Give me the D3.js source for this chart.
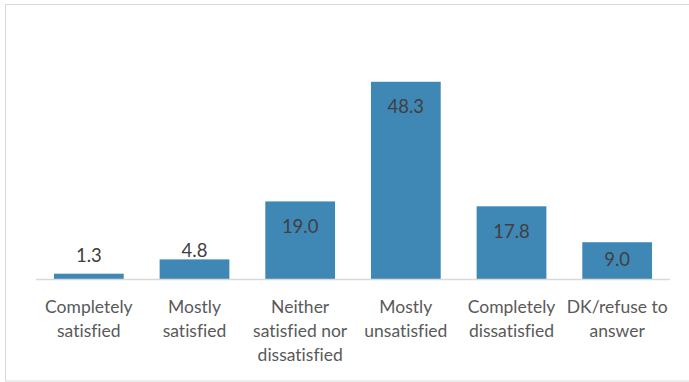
<!DOCTYPE html>
<html>
<head>
<meta charset="utf-8">
<script src="https://cdn.jsdelivr.net/npm/d3@7"></script>
<style>
  html, body { margin: 0; padding: 0; background: #fff; }
  svg { display: block; }
  text { font-variant-ligatures: none; font-feature-settings: "liga" 0; }
</style>
</head>
<body>
<svg id="chart" width="689" height="382"></svg>
<script>
// Satisfaction survey: share of respondents per answer (%)
const categories = [
  ["Completely", "satisfied"],
  ["Mostly", "satisfied"],
  ["Neither", "satisfied nor", "dissatisfied"],
  ["Mostly", "unsatisfied"],
  ["Completely", "dissatisfied"],
  ["DK/refuse to", "answer"]
];
const values = [1.3, 4.8, 19.0, 48.3, 17.8, 9.0];
const yMax = 60;

const svg = d3.select("#chart");
const fontFamily = "Lato, 'Open Sans', sans-serif";
const barColor = "#3f87b4";
const textColor = "#595959";
const labelColor = "#404040";

// chart frame
svg.append("rect")
  .attr("x", 5.5).attr("y", 4.5)
  .attr("width", 690).attr("height", 376.5)
  .attr("fill", "#fff")
  .attr("stroke", "#d9d9d9").attr("stroke-width", 1);

const plot = { left: 36, right: 670, top: 34, bottom: 279 };

const x = d3.scaleBand()
  .domain(d3.range(values.length))
  .range([plot.left, plot.right])
  .paddingInner(0.34)
  .paddingOuter(0.17);

const y = d3.scaleLinear()
  .domain([0, yMax])
  .range([plot.bottom, plot.top]);

// bars
svg.append("g").selectAll("rect")
  .data(values)
  .join("rect")
  .attr("x", (d, i) => x(i))
  .attr("y", d => y(d))
  .attr("width", x.bandwidth())
  .attr("height", d => y(0) - y(d))
  .attr("fill", barColor);

// category axis: baseline without ticks, wrapped labels
const xAxis = d3.axisBottom(x).tickSize(0).tickFormat(() => "");
const axisG = svg.append("g")
  .attr("transform", `translate(0,${plot.bottom + 0.5})`)
  .call(xAxis);
axisG.select(".domain")
  .attr("stroke", "#d9d9d9")
  .attr("stroke-width", 1.5)
  .attr("d", `M${plot.left},0H${plot.right}`);

axisG.selectAll(".tick text").remove();
axisG.selectAll(".tick").each(function(d, i) {
  const t = d3.select(this).append("text")
    .attr("x", x.bandwidth() / 2)
    .attr("text-anchor", "middle")
    .attr("fill", textColor)
    .attr("font-family", fontFamily)
    .attr("font-size", 17.5);
  categories[i].forEach((line, k) => {
    t.append("tspan")
      .attr("x", x.bandwidth() / 2)
      .attr("y", 33 + k * 24)
      .text(line);
  });
});
axisG.selectAll(".tick").attr("transform", (d) => `translate(${x(d)},0)`);

// value labels: inside the bar top when there is room, above it otherwise
function labelCenter(d) {
  const top = y(d);
  const h = y(0) - top;
  if (h >= 30) return top + Math.min(25, h / 2 - 1);
  return top - 18 + 0.6 * (h - 5);
}

svg.append("g").selectAll("text")
  .data(values)
  .join("text")
  .attr("x", (d, i) => x(i) + x.bandwidth() / 2)
  .attr("y", d => labelCenter(d))
  .attr("dy", "0.35em")
  .attr("text-anchor", "middle")
  .attr("fill", labelColor)
  .attr("font-family", fontFamily)
  .attr("font-size", 18.5)
  .text(d => d.toFixed(1));
</script>
</body>
</html>
